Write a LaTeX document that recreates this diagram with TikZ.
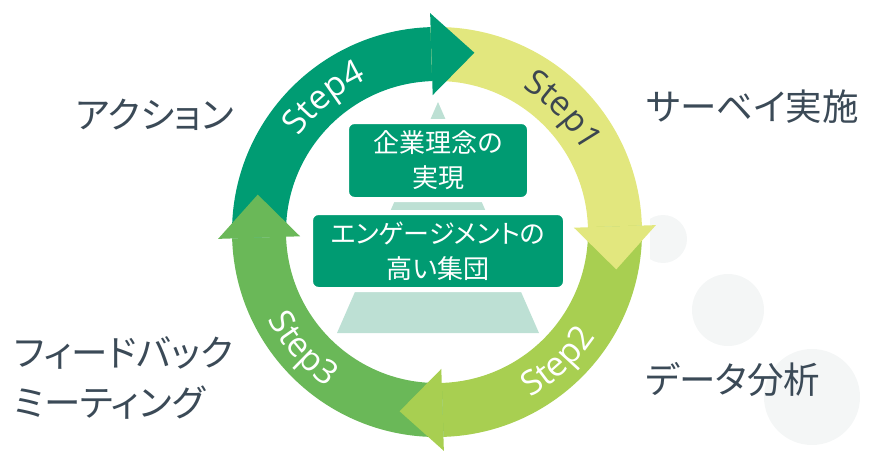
\documentclass[tikz,border=0pt]{standalone}
\usepackage{fontspec}
\setmainfont{Open Sans}
\newfontfamily\jp{Noto Sans CJK JP}[RawFeature=+palt]
\usetikzlibrary{decorations.text}
\definecolor{cA}{HTML}{009C73}
\definecolor{cB}{HTML}{E2E77E}
\definecolor{cC}{HTML}{A8CF51}
\definecolor{cD}{HTML}{6AB858}
\definecolor{pyr}{HTML}{BDE0D4}
\definecolor{boxg}{HTML}{009B72}
\definecolor{lblc}{HTML}{3B4A57}
\definecolor{stepdark}{HTML}{3C4650}
\definecolor{bub}{HTML}{F4F6F6}
% ring body: start angle, end angle, colour
\newcommand\ringbody[3]{\fill[#3] ({437+205*cos(#1)},{219+205*sin(#1)}) arc[start angle=#1,end angle=#2,radius=205] -- ({437+151*cos(#2)},{219+151*sin(#2)}) arc[start angle=#2,end angle=#1,radius=151] -- cycle;}
% arrow head: base angle, colour (clockwise)
\newcommand\ringhead[2]{\fill[#2] ({437+219*cos(#1)},{219+219*sin(#1)}) -- ({437+178*cos(#1)+43*sin(#1)},{219+178*sin(#1)-43*cos(#1)}) -- ({437+137*cos(#1)},{219+137*sin(#1)}) -- cycle;}
\newcommand\stepw{\fontsize{34}{34}\selectfont\color{white}}
\newcommand\stepd{\fontsize{34}{34}\selectfont\color{stepdark}}
\tikzset{
  pbox/.style={fill=boxg, draw=white, line width=5pt, rounded corners=8pt, text=white, align=center, inner sep=0pt, font=\jp\fontsize{26}{35}\selectfont},
  lbl/.style={text=lblc, font=\jp\fontsize{36.5}{50}\selectfont, inner sep=0pt},
}
\begin{document}
\begin{tikzpicture}[x=1pt,y=1pt]
\useasboundingbox (0,0) rectangle (870,451);
% faint bubbles
\begin{scope}
\clip (650,0) rectangle (870,451);
\fill[bub] (663,212) circle[radius=24];
\end{scope}
\fill[bub] (728,141) circle[radius=36];
\fill[bub] (812,54) circle[radius=48];
% pyramid
\fill[pyr] (438,349) -- (337,118) -- (539,118) -- cycle;
% boxes
\node[pbox, minimum width=183pt, minimum height=78pt] (b1) at (438,290.5) {企業理念の\\実現};
\node[pbox, minimum width=255pt, minimum height=77pt] (b2) at (438,200) {エンゲージメントの\\高い集団};
% ring bodies
\ringbody{181.8}{91.8}{cA}
\ringbody{91.8}{1.8}{cB}
\ringbody{1.8}{-88.2}{cC}
\ringbody{271.8}{181.8}{cD}
% arrow heads
\ringhead{91.8}{cA}
\ringhead{1.8}{cB}
\ringhead{-88.2}{cC}
\ringhead{181.8}{cD}
% step labels
\path[decorate, decoration={text along path, text align=center, text={|\stepw|Step4}}]
  ({437+167.5*cos(160)},{219+167.5*sin(160)}) arc[start angle=160, end angle=100, radius=167.5];
\path[decorate, decoration={text along path, text align=center, text={|\stepd|Step1}}]
  ({437+167*cos(74)},{219+167*sin(74)}) arc[start angle=74, end angle=14, radius=167];
\path[decorate, decoration={text along path, text align=center, text={|\stepw|Step2}}]
  ({437+190*cos(-77)},{219+190*sin(-77)}) arc[start angle=-77, end angle=-17, radius=190];
\path[decorate, decoration={text along path, text align=center, text={|\stepw|Step3}}]
  ({437+190.5*cos(191)},{219+190.5*sin(191)}) arc[start angle=191, end angle=251, radius=190.5];
% side labels
\node[lbl, anchor=west] (l1) at (646,344) {サーベイ実施};
\node[lbl, anchor=west] (l2) at (645,72) {データ分析};
\node[lbl, anchor=east] (l3) at (234,336) {アクション};
\node[lbl, anchor=west, align=left] (l4) at (14,73) {フィードバック\\ミーティング};
\end{tikzpicture}
\end{document}
